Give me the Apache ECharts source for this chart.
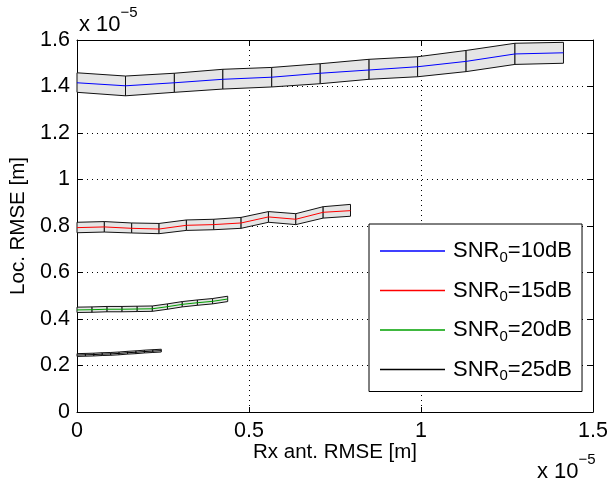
<!DOCTYPE html>
<html><head><meta charset="utf-8">
<script src="https://cdn.jsdelivr.net/npm/echarts@6/dist/echarts.min.js"></script>
<style>html,body{margin:0;padding:0;background:#fff}#c{width:611px;height:484px}</style>
</head><body><div id="c"></div>
<script>
// values in units of 1e-5 m
const seriesNames = ['SNR0=10dB', 'SNR0=15dB', 'SNR0=20dB', 'SNR0=25dB'];
const seriesColors = ['#0000ff', '#ff0000', '#00a000', '#000000'];

const x10 = [0, 0.141, 0.283, 0.424, 0.566, 0.707, 0.849, 0.990, 1.131, 1.273, 1.414];
const mean10 = [1.416, 1.403, 1.416, 1.431, 1.440, 1.457, 1.471, 1.485, 1.508, 1.540, 1.545];
const upper10 = [1.459, 1.445, 1.457, 1.474, 1.482, 1.498, 1.517, 1.528, 1.555, 1.586, 1.590];
const lower10 = [1.375, 1.360, 1.375, 1.389, 1.398, 1.412, 1.431, 1.442, 1.464, 1.495, 1.500];

const x15 = [0, 0.0795, 0.159, 0.2385, 0.318, 0.3975, 0.477, 0.5565, 0.636, 0.7155, 0.795];
const mean15 = [0.793, 0.796, 0.790, 0.787, 0.803, 0.806, 0.813, 0.839, 0.829, 0.859, 0.866];
const upper15 = [0.816, 0.819, 0.813, 0.811, 0.826, 0.829, 0.837, 0.862, 0.853, 0.883, 0.893];
const lower15 = [0.771, 0.774, 0.770, 0.767, 0.781, 0.784, 0.790, 0.816, 0.806, 0.834, 0.842];

const x20 = [0, 0.0438, 0.0875, 0.131, 0.175, 0.219, 0.263, 0.306, 0.350, 0.394, 0.438];
const mean20 = [0.439, 0.440, 0.442, 0.442, 0.443, 0.444, 0.453, 0.463, 0.470, 0.476, 0.486];
const upper20 = [0.451, 0.452, 0.454, 0.454, 0.455, 0.456, 0.465, 0.475, 0.482, 0.488, 0.498];
const lower20 = [0.428, 0.429, 0.431, 0.431, 0.432, 0.433, 0.442, 0.452, 0.459, 0.465, 0.475];

const x25 = [0, 0.0245, 0.049, 0.0735, 0.098, 0.1225, 0.147, 0.1715, 0.196, 0.2205, 0.245];
const mean25 = [0.245, 0.246, 0.247, 0.249, 0.250, 0.252, 0.255, 0.257, 0.260, 0.262, 0.264];
const upper25 = [0.251, 0.252, 0.253, 0.255, 0.256, 0.258, 0.261, 0.263, 0.266, 0.268, 0.270];
const lower25 = [0.239, 0.240, 0.241, 0.243, 0.244, 0.246, 0.249, 0.251, 0.254, 0.256, 0.258];

const xTicks = [0, 0.5, 1, 1.5];
const yTicks = [0, 0.2, 0.4, 0.6, 0.8, 1, 1.2, 1.4, 1.6];

const groups = [
  [x10, mean10, upper10, lower10],
  [x15, mean15, upper15, lower15],
  [x20, mean20, upper20, lower20],
  [x25, mean25, upper25, lower25]
];

const FF = '"Liberation Sans", Arial, Helvetica, sans-serif';

function segs(xs, up, lo) {
  const d = [];
  for (let i = 0; i < xs.length - 1; i++) d.push([xs[i], lo[i], up[i], xs[i + 1], lo[i + 1], up[i + 1]]);
  return d;
}

const series = [];
groups.forEach((g, k) => {
  series.push({
    type: 'custom', name: 'band' + k, silent: true, z: 2 + k * 2,
    data: segs(g[0], g[2], g[3]),
    encode: { x: [0, 3], y: [1, 2, 4, 5] },
    renderItem: function (params, api) {
      const a = api.coord([api.value(0), api.value(1)]);
      const b = api.coord([api.value(0), api.value(2)]);
      const c = api.coord([api.value(3), api.value(5)]);
      const d = api.coord([api.value(3), api.value(4)]);
      return { type: 'polygon', shape: { points: [a, b, c, d] },
        style: { fill: '#e5e5e5', stroke: '#111', lineWidth: 1 } };
    }
  });
  series.push({
    type: 'line', name: seriesNames[k], symbol: 'none', z: 3 + k * 2,
    data: g[0].map((x, i) => [x, g[1][i]]),
    lineStyle: { color: seriesColors[k], width: 1 },
    itemStyle: { color: seriesColors[k] }
  });
});

const axisCommon = {
  type: 'value',
  axisLine: { show: true, onZero: false, lineStyle: { color: '#000', width: 1 } },
  axisTick: { show: true, inside: true, length: 5, lineStyle: { color: '#000' } },
};

const expText = {
  text: '{b|x 10}{p|\u22125}', rich: {
    b: { fontSize: 22, fontFamily: FF, fill: '#000', padding: [8, 0, 0, 0] },
    p: { fontSize: 15, fontFamily: FF, fill: '#000', padding: [0, 0, 16, 0] } }
};

const chart = echarts.init(document.getElementById('c'), null, { renderer: 'canvas' });
chart.setOption({
  animation: false,
  backgroundColor: '#fff',
  grid: { left: 76, right: 15, top: 40, bottom: 72, containLabel: false },
  xAxis: [
    Object.assign({}, axisCommon, {
      min: xTicks[0], max: xTicks[xTicks.length - 1], interval: xTicks[1] - xTicks[0], position: 'bottom',
      axisLabel: { color: '#000', fontSize: 21.5, fontFamily: FF, margin: 8 },
      splitLine: { show: true, lineStyle: { color: '#000', type: [1, 4], width: 1 } },
      name: 'Rx ant. RMSE [m]', nameLocation: 'middle', nameGap: 30, nameMoveOverlap: false,
      nameTextStyle: { color: '#000', fontSize: 20.5, fontFamily: FF }
    }),
    Object.assign({}, axisCommon, {
      min: xTicks[0], max: xTicks[xTicks.length - 1], interval: xTicks[1] - xTicks[0], position: 'top',
      axisLabel: { show: false }, splitLine: { show: false }
    })
  ],
  yAxis: [
    Object.assign({}, axisCommon, {
      min: yTicks[0], max: yTicks[yTicks.length - 1], interval: yTicks[1] - yTicks[0], position: 'left',
      axisLabel: { color: '#000', fontSize: 21.5, fontFamily: FF, margin: 7 },
      splitLine: { show: true, lineStyle: { color: '#000', type: [1, 4], width: 1 } },
      name: 'Loc. RMSE [m]', nameLocation: 'middle', nameGap: 48, nameMoveOverlap: false,
      nameTextStyle: { color: '#000', fontSize: 20.5, fontFamily: FF }
    }),
    Object.assign({}, axisCommon, {
      min: yTicks[0], max: yTicks[yTicks.length - 1], interval: yTicks[1] - yTicks[0], position: 'right',
      axisLabel: { show: false }, splitLine: { show: false }
    })
  ],
  legend: {
    data: seriesNames,
    orient: 'vertical', left: 369, top: 224,
    backgroundColor: '#fff', borderColor: '#000', borderWidth: 1, borderRadius: 0,
    padding: [16, 10, 8, 11],
    icon: 'rect',
    itemWidth: 65, itemHeight: 1.5, itemGap: 14.5,
    selectedMode: false,
    formatter: function (name) {
      const m = name.match(/^SNR0(=.*)$/);
      return '{f|SNR}{s|0}{a|' + m[1] + '}';
    },
    textStyle: {
      color: '#000', fontFamily: FF, fontSize: 22,
      rich: {
        f: { fontSize: 22, fontFamily: FF, color: '#000', padding: [0, 0, 0, 3] },
        a: { fontSize: 22, fontFamily: FF, color: '#000' },
        s: { fontSize: 15, fontFamily: FF, color: '#000', padding: [13, 0, 0, 0] }
      }
    }
  },
  graphic: [
    { type: 'text', left: 79, top: 5, silent: true, style: expText },
    { type: 'text', left: 537, top: 452, silent: true, style: expText }
  ],
  series: series
});
</script></body></html>
